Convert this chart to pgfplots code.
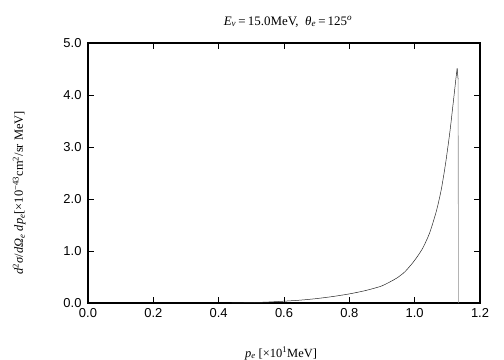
\documentclass[border=0pt]{standalone}
\usepackage{fontspec}
\setmainfont{Liberation Serif}
\setsansfont{Liberation Sans}
\usepackage{pgfplots}
\pgfplotsset{compat=1.18}
\begin{document}
\begin{tikzpicture}[x=1bp,y=1bp]
\begin{axis}[
  name=ax,
  scale only axis,
  width=392bp, height=260bp,
  xmin=0, xmax=1.2, ymin=0, ymax=5,
  xtick={0,0.2,...,1.2}, ytick={0,1,...,5},
  tick align=inside, tick pos=both,
  major tick length=6bp,
  axis line style={line width=1.2bp},
  tick style={line width=0.8bp, black},
  ticklabel style={font=\sffamily\fontsize{13}{15}\selectfont, /pgf/number format/assume math mode=true},
  xticklabel style={yshift=-2bp},
  yticklabel style={xshift=-3bp},
  /pgf/number format/.cd, fixed, fixed zerofill, precision=1, /tikz/.cd,
  clip=false,
]
\addplot[black!85, line width=0.5bp, smooth, tension=0.4] coordinates {
(0.44,0.0) (0.5,0.008) (0.55,0.018) (0.6,0.035) (0.65,0.055) (0.7,0.085) (0.75,0.125) (0.8,0.175) (0.85,0.24) (0.9,0.33) (0.944,0.475) (0.97,0.60) (0.995,0.78) (1.01,0.91) (1.026,1.07) (1.046,1.35) (1.067,1.78) (1.082,2.2) (1.095,2.7) (1.108,3.3) (1.118,3.85) (1.126,4.3) (1.130,4.51)
};
\addplot[black!85, line width=0.5bp] coordinates {(1.130,4.51) (1.133,4.3)};
\addplot[black!45, line width=0.6bp] coordinates {(1.133,4.3) (1.134,0.0)};
\coordinate (sw) at (rel axis cs:0,0);
\coordinate (ne) at (rel axis cs:1,1);
\end{axis}
\node[font=\fontsize{13}{15}\selectfont, anchor=base] at ([xshift=4bp,yshift=18bp]ne -| ax.north) {\textit{E}\textsubscript{\textit{ν}}\,=\,15.0MeV,\ \ \textit{θ}\textsubscript{\textit{e}}\,=\,125\textsuperscript{\textit{o}}};
\node[font=\fontsize{12.5}{15}\selectfont, anchor=base] at ([xshift=-3bp,yshift=-54bp]sw -| ax.south) {\textit{p}\textsubscript{\textit{e}} [×10\textsuperscript{1}MeV]};
\node[font=\fontsize{12.5}{15}\selectfont, rotate=90, anchor=base] at ([xshift=-65bp,yshift=-20bp]ax.west) {\textit{d}\textsuperscript{2}\textit{σ}/\textit{d}\textit{Ω}\textsubscript{\textit{e}} \textit{dp}\textsubscript{\textit{e}}[×10\textsuperscript{−43}cm\textsuperscript{2}/sr MeV]};
\pgfresetboundingbox
\path[use as bounding box] ([xshift=-88bp,yshift=-57bp]sw) rectangle ([xshift=24bp,yshift=43bp]ne);
\end{tikzpicture}
\end{document}
